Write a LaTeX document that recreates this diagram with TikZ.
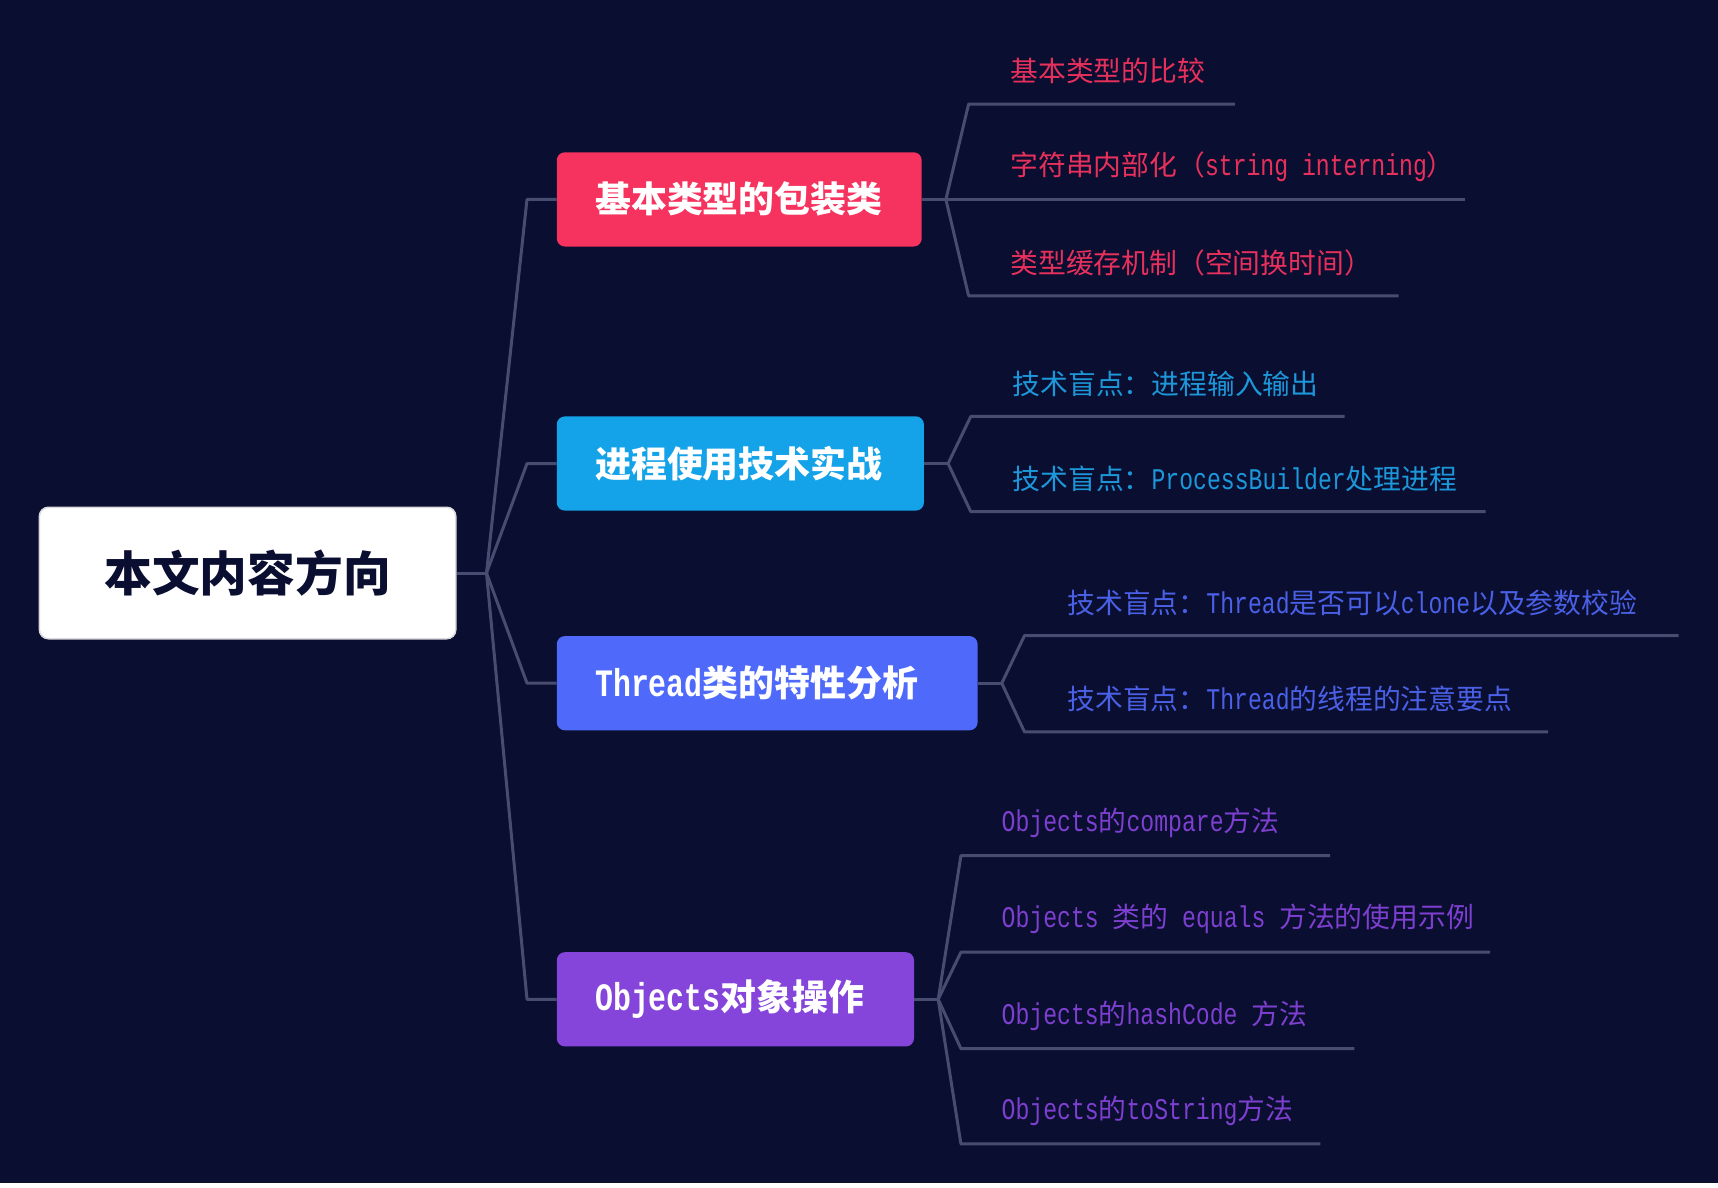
\documentclass[tikz,border=0pt]{standalone}
\usepackage{fontspec}
\setmainfont{Noto Sans CJK SC}
\newfontfamily\mono[Scale=1.08,FakeStretch=0.77]{Liberation Mono}
\definecolor{bg}{HTML}{0A0E30}
\definecolor{linec}{HTML}{474D70}
\definecolor{rootborder}{HTML}{D9D9DE}
\definecolor{cA}{HTML}{F6325E}
\definecolor{cB}{HTML}{14A2E9}
\definecolor{cC}{HTML}{4F6AFB}
\definecolor{cD}{HTML}{8545DA}
\definecolor{tA}{HTML}{E8305C}
\definecolor{tB}{HTML}{1C98DA}
\definecolor{tC}{HTML}{4A60E6}
\definecolor{tD}{HTML}{7D3FCF}
\begin{document}
\begin{tikzpicture}[x=1pt,y=-1pt,
  link/.style={draw=linec, line width=3pt, line join=round},
  rootbox/.style={rectangle, rounded corners=9pt, fill=white, draw=rootborder, line width=1.5pt,
    minimum width=416.4pt, minimum height=131.5pt, inner sep=0pt,
    font=\fontsize{47.7}{56}\selectfont\bfseries, text=bg},
  topic/.style={rectangle, rounded corners=8pt, minimum height=94.2pt, inner xsep=38.4pt,
    inner ysep=0pt, align=left, text=white, font=\fontsize{35.9}{42}\selectfont\bfseries, anchor=west},
  lab/.style={anchor=west, inner sep=0pt, font=\fontsize{27.8}{33}\selectfont},
]
\fill[white] (0,0) rectangle (1718,1187);
\fill[bg] (0,0) rectangle (1718,1183);
\useasboundingbox (0,0) rectangle (1718,1187);

% root
\node[rootbox] (root) at (247.6,573) {本文内容方向};
\coordinate (j0) at (486.5,573);

% topics
\node[topic, fill=cA, minimum width=364.9pt, text width=288.1pt] (b1) at (556.6,199.4) {基本类型的包装类};
\node[topic, fill=cB, minimum width=367.1pt, text width=290.3pt] (b2) at (556.6,463.5) {进程使用技术实战};
\node[topic, fill=cC, minimum width=420.8pt, text width=344pt] (b3) at (556.6,683.2) {{\mono\bfseries Thread}类的特性分析};
\node[topic, fill=cD, minimum width=357.2pt, text width=280.4pt] (b4) at (556.6,999.3) {{\mono\bfseries Objects}对象操作};

% root connectors
\draw[link] (root.east) -- (j0);
\draw[link] (j0) -- ([xshift=-29.6pt]b1.west) -- (b1.west);
\draw[link] (j0) -- ([xshift=-29.6pt]b2.west) -- (b2.west);
\draw[link] (j0) -- ([xshift=-29.6pt]b3.west) -- (b3.west);
\draw[link] (j0) -- ([xshift=-29.6pt]b4.west) -- (b4.west);

% branch 1
\coordinate (j1) at ([xshift=24pt]b1.east);
\coordinate (a11) at (968.6,104.1); \coordinate (e11) at (1234.9,104.1);
\coordinate (a12) at (968.6,199.4); \coordinate (e12) at (1465,199.4);
\coordinate (a13) at (968.6,295.8); \coordinate (e13) at (1398.5,295.8);
\draw[link] (b1.east) -- (j1);
\draw[link] (j1) -- (a11) -- (e11);
\draw[link] (j1) -- (a12) -- (e12);
\draw[link] (j1) -- (a13) -- (e13);
\node[lab, text=tA] (t11) at ([shift={(41.6,-33)}]a11) {基本类型的比较};
\node[lab, text=tA] (t12) at ([shift={(41.6,-33)}]a12) {字符串内部化（{\mono string~interning}）};
\node[lab, text=tA] (t13) at ([shift={(41.6,-33)}]a13) {类型缓存机制（空间换时间）};

% branch 2
\coordinate (j2) at ([xshift=24pt]b2.east);
\coordinate (a21) at (970.8,416.4); \coordinate (e21) at (1344.6,416.4);
\coordinate (a22) at (970.8,511.7); \coordinate (e22) at (1485.7,511.7);
\draw[link] (b2.east) -- (j2);
\draw[link] (j2) -- (a21) -- (e21);
\draw[link] (j2) -- (a22) -- (e22);
\node[lab, text=tB] (t21) at ([shift={(41.6,-33)}]a21) {技术盲点：进程输入输出};
\node[lab, text=tB] (t22) at ([shift={(41.6,-33)}]a22) {技术盲点：{\mono ProcessBuilder}处理进程};

% branch 3
\coordinate (j3) at ([xshift=24pt]b3.east);
\coordinate (a31) at (1024.5,635.5); \coordinate (e31) at (1678.6,635.5);
\coordinate (a32) at (1024.5,731.9); \coordinate (e32) at (1548.2,731.9);
\draw[link] (b3.east) -- (j3);
\draw[link] (j3) -- (a31) -- (e31);
\draw[link] (j3) -- (a32) -- (e32);
\node[lab, text=tC] (t31) at ([shift={(42.7,-33)}]a31) {技术盲点：{\mono Thread}是否可以{\mono clone}以及参数校验};
\node[lab, text=tC] (t32) at ([shift={(42.7,-33)}]a32) {技术盲点：{\mono Thread}的线程的注意要点};

% branch 4
\coordinate (j4) at ([xshift=24pt]b4.east);
\coordinate (a41) at (960.9,855.7); \coordinate (e41) at (1330.2,855.7);
\coordinate (a42) at (960.9,952.2); \coordinate (e42) at (1490.2,952.2);
\coordinate (a43) at (960.9,1048.6); \coordinate (e43) at (1354.3,1048.6);
\coordinate (a44) at (960.9,1143.9); \coordinate (e44) at (1320.3,1143.9);
\draw[link] (b4.east) -- (j4);
\draw[link] (j4) -- (a41) -- (e41);
\draw[link] (j4) -- (a42) -- (e42);
\draw[link] (j4) -- (a43) -- (e43);
\draw[link] (j4) -- (a44) -- (e44);
\node[lab, text=tD] (t41) at ([shift={(40.6,-33)}]a41) {{\mono Objects}的{\mono compare}方法};
\node[lab, text=tD] (t42) at ([shift={(40.6,-33)}]a42) {{\mono Objects~}类的{\mono~equals~}方法的使用示例};
\node[lab, text=tD] (t43) at ([shift={(40.6,-33)}]a43) {{\mono Objects}的{\mono hashCode~}方法};
\node[lab, text=tD] (t44) at ([shift={(40.6,-33)}]a44) {{\mono Objects}的{\mono toString}方法};
\end{tikzpicture}
\end{document}
